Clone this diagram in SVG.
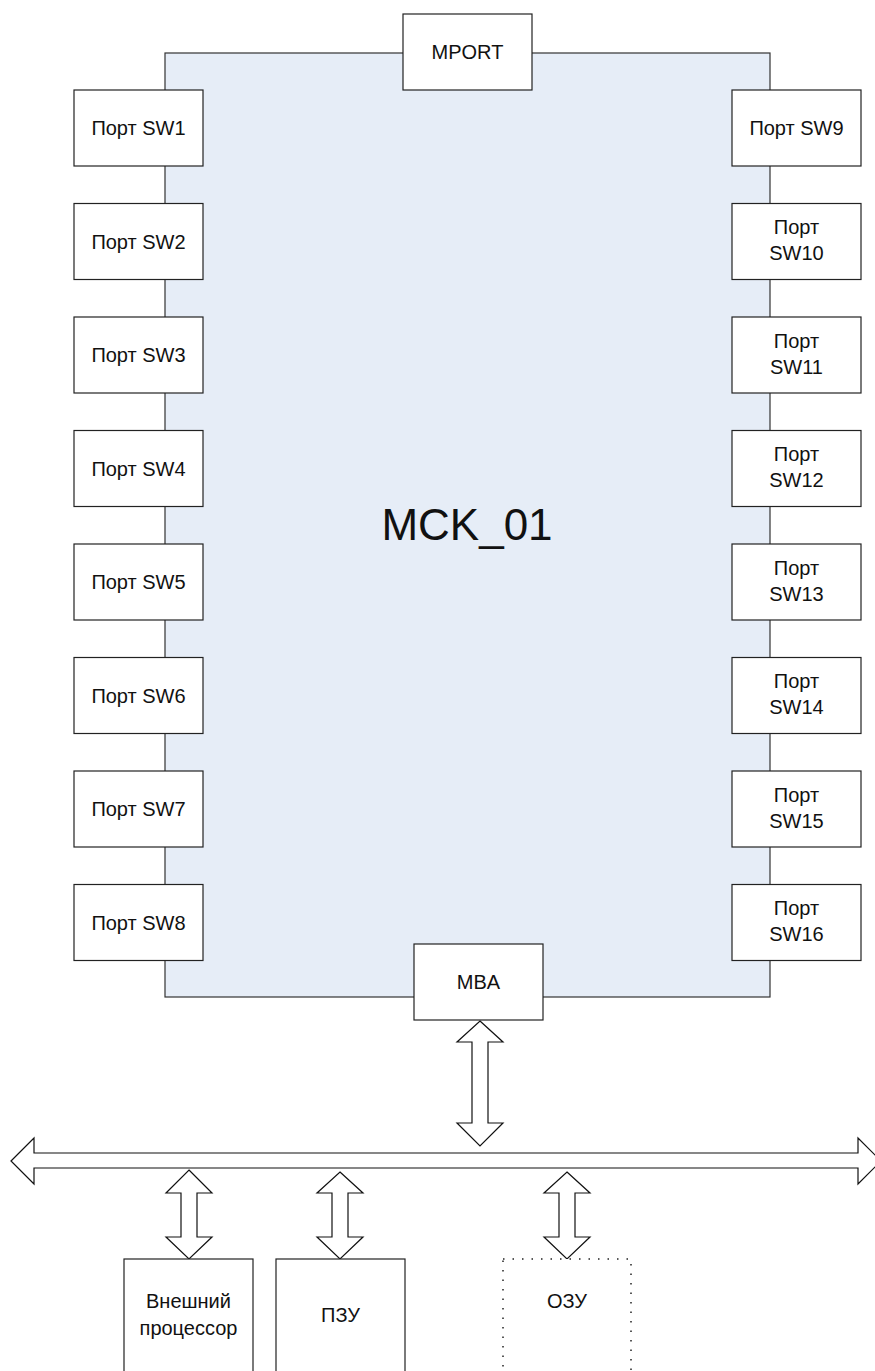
<svg xmlns="http://www.w3.org/2000/svg" width="875" height="1371" viewBox="0 0 875 1371">
<style>
.box{fill:#fff;stroke:#222;stroke-width:1.2}
.main{fill:#E6EDF7;stroke:#333;stroke-width:1.2}
.dot{fill:#fff;stroke:#222;stroke-width:1.5;stroke-dasharray:1.5 8}
.arr{fill:#fff;stroke:#111;stroke-width:1.2;stroke-linejoin:miter}
text{font-family:"Liberation Sans",Arial,sans-serif;font-size:20px;fill:#111;text-anchor:middle}
.big{font-size:44px}
</style>
<rect width="875" height="1371" fill="#fff"/>
<g id="mck01">
<rect class="main" x="165" y="53" width="605" height="944"/>
<text class="big" x="467" y="540">MCK_01</text>
</g>
<g id="mport"><rect class="box" x="403" y="14" width="129" height="76"/><text x="467.5" y="59">MPORT</text></g>
<g id="sw1"><rect class="box" x="74" y="90" width="129" height="76"/><text x="138.5" y="135">Порт SW1</text></g>
<g id="sw2"><rect class="box" x="74" y="203.5" width="129" height="76"/><text x="138.5" y="248.5">Порт SW2</text></g>
<g id="sw3"><rect class="box" x="74" y="317" width="129" height="76"/><text x="138.5" y="362">Порт SW3</text></g>
<g id="sw4"><rect class="box" x="74" y="430.5" width="129" height="76"/><text x="138.5" y="475.5">Порт SW4</text></g>
<g id="sw5"><rect class="box" x="74" y="544" width="129" height="76"/><text x="138.5" y="589">Порт SW5</text></g>
<g id="sw6"><rect class="box" x="74" y="657.5" width="129" height="76"/><text x="138.5" y="702.5">Порт SW6</text></g>
<g id="sw7"><rect class="box" x="74" y="771" width="129" height="76"/><text x="138.5" y="816">Порт SW7</text></g>
<g id="sw8"><rect class="box" x="74" y="884.5" width="129" height="76"/><text x="138.5" y="929.5">Порт SW8</text></g>
<g id="sw9"><rect class="box" x="732" y="90" width="129" height="76"/><text x="796.5" y="135">Порт SW9</text></g>
<g id="sw10"><rect class="box" x="732" y="203.5" width="129" height="76"/><text x="796.5" y="234">Порт</text><text x="796.5" y="260">SW10</text></g>
<g id="sw11"><rect class="box" x="732" y="317" width="129" height="76"/><text x="796.5" y="347.5">Порт</text><text x="796.5" y="373.5">SW11</text></g>
<g id="sw12"><rect class="box" x="732" y="430.5" width="129" height="76"/><text x="796.5" y="461">Порт</text><text x="796.5" y="487">SW12</text></g>
<g id="sw13"><rect class="box" x="732" y="544" width="129" height="76"/><text x="796.5" y="574.5">Порт</text><text x="796.5" y="600.5">SW13</text></g>
<g id="sw14"><rect class="box" x="732" y="657.5" width="129" height="76"/><text x="796.5" y="688">Порт</text><text x="796.5" y="714">SW14</text></g>
<g id="sw15"><rect class="box" x="732" y="771" width="129" height="76"/><text x="796.5" y="801.5">Порт</text><text x="796.5" y="827.5">SW15</text></g>
<g id="sw16"><rect class="box" x="732" y="884.5" width="129" height="76"/><text x="796.5" y="915">Порт</text><text x="796.5" y="941">SW16</text></g>
<g id="mba"><rect class="box" x="414" y="944" width="129" height="76"/><text x="478.5" y="989">MBA</text></g>
<g id="connectors">
<polygon class="arr" points="480,1021 503,1042 488,1042 488,1123 503,1123 480,1146 457,1123 472,1123 472,1042 457,1042"/>
<polygon class="arr" points="11,1161 34,1138 34,1153 858,1153 858,1138 881,1161 858,1184 858,1168 34,1168 34,1184"/>
<polygon class="arr" points="189,1170 212,1193 197,1193 197,1237 212,1237 189,1259 166,1237 181,1237 181,1193 166,1193"/>
<polygon class="arr" points="340,1172 363,1193 348,1193 348,1237 363,1237 340,1259 317,1237 332,1237 332,1193 317,1193"/>
<polygon class="arr" points="567,1172 590,1193 575,1193 575,1237 590,1237 567,1259 544,1237 559,1237 559,1193 544,1193"/>
</g>
<g id="ext_cpu"><rect class="box" x="124" y="1259" width="129" height="130"/><text x="188.5" y="1308">Внешний</text><text x="188.5" y="1335">процессор</text></g>
<g id="rom"><rect class="box" x="276" y="1259" width="129" height="130"/><text x="340.5" y="1322">ПЗУ</text></g>
<g id="ram"><rect class="dot" x="503" y="1259" width="128" height="130"/><text x="567" y="1308">ОЗУ</text></g>
</svg>
